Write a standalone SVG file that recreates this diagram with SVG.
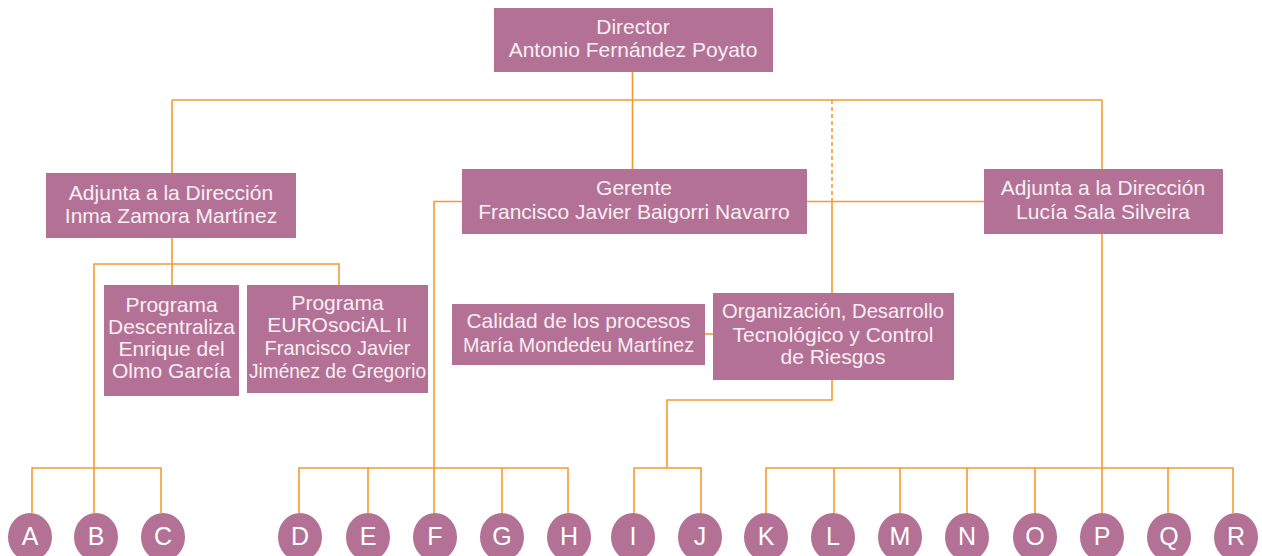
<svg xmlns="http://www.w3.org/2000/svg" width="1262" height="556" viewBox="0 0 1262 556">
<style>
.box{fill:#b37295}
.t{font-family:"Liberation Sans",Arial,sans-serif;font-size:21px;fill:#f8eef3;text-anchor:middle}
.c{font-family:"Liberation Sans",Arial,sans-serif;font-size:25px;fill:#ffffff;text-anchor:middle}
.ln{fill:none;stroke:#f59a32;stroke-width:1.6}
.dash{fill:none;stroke:#f59a32;stroke-width:1.6;stroke-dasharray:4 3}
</style>
<rect width="1262" height="556" fill="#ffffff"/>
<g id="connectors">
<path class="ln" d="M632.5 72V100M172 100H1102M172 100V173M632.5 100V169M1102 100V169"/>
<path class="dash" d="M832 100V201.5"/>
<path class="ln" d="M807 201.5H984M832 201.5V293M462 201.5H434V468"/>
<path class="ln" d="M172 238V285M94 468V264H339V285"/>
<path class="ln" d="M705 334H713"/>
<path class="ln" d="M832 380V400H667V468"/>
<path class="ln" d="M1102 234V513"/>
<path class="ln" d="M32 513V468H161V513M94 468V513"/>
<path class="ln" d="M299 513V468H568V513M368 468V513M434 468V513M502 468V513"/>
<path class="ln" d="M634 513V468H701V513"/>
<path class="ln" d="M766 513V468H1233V513M834 468V513M900 468V513M967 468V513M1035 468V513M1168 468V513"/>
</g>
<g id="director"><rect class="box" x="494" y="8" width="279" height="64"/><text class="t" x="633" y="34">Director</text><text class="t" x="633" y="57">Antonio Fernández Poyato</text></g>
<g id="adjunta-inma"><rect class="box" x="46" y="173" width="250" height="65"/><text class="t" x="171" y="200">Adjunta a la Dirección</text><text class="t" x="171" y="223">Inma Zamora Martínez</text></g>
<g id="gerente"><rect class="box" x="462" y="169" width="345" height="65"/><text class="t" x="634" y="195">Gerente</text><text class="t" x="634" y="219">Francisco Javier Baigorri Navarro</text></g>
<g id="adjunta-lucia"><rect class="box" x="984" y="169" width="239" height="65"/><text class="t" x="1103" y="195">Adjunta a la Dirección</text><text class="t" x="1103" y="219">Lucía Sala Silveira</text></g>
<g id="descentraliza"><rect class="box" x="104" y="285" width="135" height="111"/><text class="t" x="171.5" y="312">Programa</text><text class="t" x="171.5" y="334" textLength="127" lengthAdjust="spacingAndGlyphs">Descentraliza</text><text class="t" x="171.5" y="356">Enrique del</text><text class="t" x="171.5" y="378">Olmo García</text></g>
<g id="eurosocial"><rect class="box" x="247" y="285" width="181" height="108"/><text class="t" x="337.5" y="310">Programa</text><text class="t" x="337.5" y="332">EUROsociAL II</text><text class="t" x="337.5" y="355" textLength="146" lengthAdjust="spacingAndGlyphs">Francisco Javier</text><text class="t" x="337.5" y="378" textLength="177" lengthAdjust="spacingAndGlyphs">Jiménez de Gregorio</text></g>
<g id="calidad"><rect class="box" x="452" y="304" width="253" height="61"/><text class="t" x="578.5" y="328">Calidad de los procesos</text><text class="t" x="578.5" y="352" textLength="231" lengthAdjust="spacingAndGlyphs">María Mondedeu Martínez</text></g>
<g id="organizacion"><rect class="box" x="713" y="293" width="241" height="87"/><text class="t" x="833" y="318" textLength="222" lengthAdjust="spacingAndGlyphs">Organización, Desarrollo</text><text class="t" x="833" y="342">Tecnológico y Control</text><text class="t" x="833" y="364">de Riesgos</text></g>
<g id="A"><ellipse class="box" cx="30" cy="537" rx="22" ry="24"/><text class="c" x="30" y="545">A</text></g>
<g id="B"><ellipse class="box" cx="96" cy="537" rx="22" ry="24"/><text class="c" x="96" y="545">B</text></g>
<g id="C"><ellipse class="box" cx="163" cy="537" rx="22" ry="24"/><text class="c" x="163" y="545">C</text></g>
<g id="D"><ellipse class="box" cx="300" cy="537" rx="22" ry="24"/><text class="c" x="300" y="545">D</text></g>
<g id="E"><ellipse class="box" cx="368" cy="537" rx="22" ry="24"/><text class="c" x="368" y="545">E</text></g>
<g id="F"><ellipse class="box" cx="435" cy="537" rx="22" ry="24"/><text class="c" x="435" y="545">F</text></g>
<g id="G"><ellipse class="box" cx="502" cy="537" rx="22" ry="24"/><text class="c" x="502" y="545">G</text></g>
<g id="H"><ellipse class="box" cx="569" cy="537" rx="22" ry="24"/><text class="c" x="569" y="545">H</text></g>
<g id="I"><ellipse class="box" cx="633" cy="537" rx="22" ry="24"/><text class="c" x="633" y="545">I</text></g>
<g id="J"><ellipse class="box" cx="700" cy="537" rx="22" ry="24"/><text class="c" x="700" y="545">J</text></g>
<g id="K"><ellipse class="box" cx="766" cy="537" rx="22" ry="24"/><text class="c" x="766" y="545">K</text></g>
<g id="L"><ellipse class="box" cx="833" cy="537" rx="22" ry="24"/><text class="c" x="833" y="545">L</text></g>
<g id="M"><ellipse class="box" cx="900" cy="537" rx="22" ry="24"/><text class="c" x="900" y="545">M</text></g>
<g id="N"><ellipse class="box" cx="967" cy="537" rx="22" ry="24"/><text class="c" x="967" y="545">N</text></g>
<g id="O"><ellipse class="box" cx="1035" cy="537" rx="22" ry="24"/><text class="c" x="1035" y="545">O</text></g>
<g id="P"><ellipse class="box" cx="1102" cy="537" rx="22" ry="24"/><text class="c" x="1102" y="545">P</text></g>
<g id="Q"><ellipse class="box" cx="1169" cy="537" rx="22" ry="24"/><text class="c" x="1169" y="545">Q</text></g>
<g id="R"><ellipse class="box" cx="1236" cy="537" rx="22" ry="24"/><text class="c" x="1236" y="545">R</text></g>
</svg>
